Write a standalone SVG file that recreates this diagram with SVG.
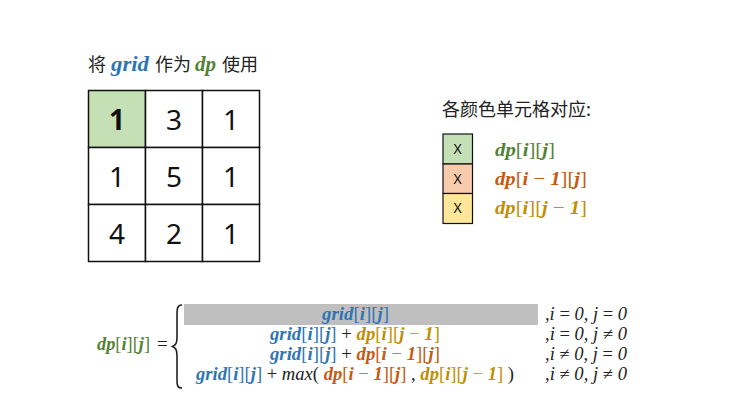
<svg xmlns="http://www.w3.org/2000/svg" width="731" height="415" viewBox="0 0 731 415">
<style>
.cjk{font-family:"Noto Sans CJK SC","Noto Sans",sans-serif;fill:#222}
.num{font-family:"Noto Sans","DejaVu Sans",sans-serif;font-size:28px;fill:#111;text-anchor:middle}
.cell{stroke:#111;stroke-width:1.5}
.m{font-family:"Liberation Serif","DejaVu Serif",serif;font-style:italic;font-weight:bold}
.b{font-style:normal;font-weight:normal}
.g{fill:#548235}.bl{fill:#2E75B6}.o{fill:#C55A11}.y{fill:#BF9000}.k{fill:#222}
.n{font-weight:normal}
.lg{stroke:#111;stroke-width:1.2}
.c{font-family:"Liberation Serif","DejaVu Serif",serif;font-size:18px;fill:#222;font-style:italic}
</style>
<rect width="731" height="415" fill="#fff"/>
<g id="title">
<text x="88" y="71" font-size="18" class="cjk">将</text>
<text x="111" y="71" font-size="21" class="m bl" textLength="38" lengthAdjust="spacingAndGlyphs">grid</text>
<text x="155" y="71" font-size="18" class="cjk">作为</text>
<text x="195" y="71" font-size="21" class="m g" textLength="21" lengthAdjust="spacingAndGlyphs">dp</text>
<text x="222" y="71" font-size="18" class="cjk">使用</text>
</g>
<g id="grid">
<rect x="88.5" y="90.5" width="57" height="57" fill="#C5E0B4" class="cell"/>
<rect x="145.5" y="90.5" width="57" height="57" fill="#fff" class="cell"/>
<rect x="202.5" y="90.5" width="57" height="57" fill="#fff" class="cell"/>
<rect x="88.5" y="147.5" width="57" height="57" fill="#fff" class="cell"/>
<rect x="145.5" y="147.5" width="57" height="57" fill="#fff" class="cell"/>
<rect x="202.5" y="147.5" width="57" height="57" fill="#fff" class="cell"/>
<rect x="88.5" y="204.5" width="57" height="57" fill="#fff" class="cell"/>
<rect x="145.5" y="204.5" width="57" height="57" fill="#fff" class="cell"/>
<rect x="202.5" y="204.5" width="57" height="57" fill="#fff" class="cell"/>
<text x="117" y="130" class="num" font-weight="bold">1</text>
<text x="174" y="130" class="num">3</text>
<text x="231" y="130" class="num">1</text>
<text x="117" y="187" class="num">1</text>
<text x="174" y="187" class="num">5</text>
<text x="231" y="187" class="num">1</text>
<text x="117" y="244" class="num">4</text>
<text x="174" y="244" class="num">2</text>
<text x="231" y="244" class="num">1</text>
</g>
<g id="legend">
<text x="442" y="116" font-size="18" class="cjk">各颜色单元格对应:</text>
<rect x="443" y="134" width="29.5" height="30" fill="#C5E0B4" class="lg"/>
<rect x="443" y="164" width="29.5" height="29.5" fill="#F8CBAD" class="lg"/>
<rect x="443" y="193.5" width="29.5" height="30" fill="#FFE699" class="lg"/>
<text x="457.7" y="154" font-size="14" text-anchor="middle" font-family="Noto Sans, sans-serif" fill="#111">X</text>
<text x="457.7" y="183.5" font-size="14" text-anchor="middle" font-family="Noto Sans, sans-serif" fill="#111">X</text>
<text x="457.7" y="213" font-size="14" text-anchor="middle" font-family="Noto Sans, sans-serif" fill="#111">X</text>
<text x="495" y="156" font-size="19.5" class="m g" textLength="60" lengthAdjust="spacingAndGlyphs">dp<tspan class="b">[</tspan>i<tspan class="b">][</tspan>j<tspan class="b">]</tspan></text>
<text x="495" y="185" font-size="19.5" class="m o" textLength="92" lengthAdjust="spacingAndGlyphs">dp<tspan class="b">[</tspan>i <tspan class="b">−</tspan> 1<tspan class="b">][</tspan>j<tspan class="b">]</tspan></text>
<text x="495" y="214" font-size="19.5" class="m y" textLength="92" lengthAdjust="spacingAndGlyphs">dp<tspan class="b">[</tspan>i<tspan class="b">][</tspan>j <tspan class="b">−</tspan> 1<tspan class="b">]</tspan></text>
</g>
<g id="formula">
<text x="97" y="350" font-size="18.5" class="m g" textLength="53" lengthAdjust="spacingAndGlyphs">dp<tspan class="b">[</tspan>i<tspan class="b">][</tspan>j<tspan class="b">]</tspan></text>
<text x="157" y="350" font-size="19" font-family="Liberation Serif, serif" fill="#222">=</text>
<path d="M182,305 C177,305 177,309 177,316 L177,337 C177,343 176,345 172.5,346.5 C176,348 177,350 177,356 L177,378 C177,385 177,388 182,388" fill="none" stroke="#222" stroke-width="1.6"/>
<rect x="184" y="304" width="354" height="21" fill="#BFBFBF"/>
<text x="355.5" y="320" font-size="18.5" text-anchor="middle" class="m bl" textLength="67" lengthAdjust="spacingAndGlyphs">grid<tspan class="b">[</tspan>i<tspan class="b">][</tspan>j<tspan class="b">]</tspan></text>
<text x="355" y="340" font-size="18.5" text-anchor="middle" class="m bl" textLength="170" lengthAdjust="spacingAndGlyphs">grid<tspan class="b">[</tspan>i<tspan class="b">][</tspan>j<tspan class="b">]</tspan><tspan class="b k"> + </tspan><tspan class="y">dp<tspan class="b">[</tspan>i<tspan class="b">][</tspan>j <tspan class="b">−</tspan> 1<tspan class="b">]</tspan></tspan></text>
<text x="355" y="360" font-size="18.5" text-anchor="middle" class="m bl" textLength="170" lengthAdjust="spacingAndGlyphs">grid<tspan class="b">[</tspan>i<tspan class="b">][</tspan>j<tspan class="b">]</tspan><tspan class="b k"> + </tspan><tspan class="o">dp<tspan class="b">[</tspan>i <tspan class="b">−</tspan> 1<tspan class="b">][</tspan>j<tspan class="b">]</tspan></tspan></text>
<text x="355" y="380" font-size="18.5" text-anchor="middle" class="m bl" textLength="318" lengthAdjust="spacingAndGlyphs">grid<tspan class="b">[</tspan>i<tspan class="b">][</tspan>j<tspan class="b">]</tspan><tspan class="b k"> + </tspan><tspan class="k n">max</tspan><tspan class="b k">( </tspan><tspan class="o">dp<tspan class="b">[</tspan>i <tspan class="b">−</tspan> 1<tspan class="b">][</tspan>j<tspan class="b">]</tspan></tspan><tspan class="b k"> ,  </tspan><tspan class="y">dp<tspan class="b">[</tspan>i<tspan class="b">][</tspan>j <tspan class="b">−</tspan> 1<tspan class="b">]</tspan></tspan><tspan class="b k"> )</tspan></text>
<text x="545" y="320" class="c" textLength="82" lengthAdjust="spacingAndGlyphs">,i <tspan font-style="normal">=</tspan> 0, j <tspan font-style="normal">=</tspan> 0</text>
<text x="545" y="340" class="c" textLength="82" lengthAdjust="spacingAndGlyphs">,i <tspan font-style="normal">=</tspan> 0, j <tspan font-style="normal">≠</tspan> 0</text>
<text x="545" y="360" class="c" textLength="82" lengthAdjust="spacingAndGlyphs">,i <tspan font-style="normal">≠</tspan> 0, j <tspan font-style="normal">=</tspan> 0</text>
<text x="545" y="380" class="c" textLength="82" lengthAdjust="spacingAndGlyphs">,i <tspan font-style="normal">≠</tspan> 0, j <tspan font-style="normal">≠</tspan> 0</text>
</g>
</svg>
